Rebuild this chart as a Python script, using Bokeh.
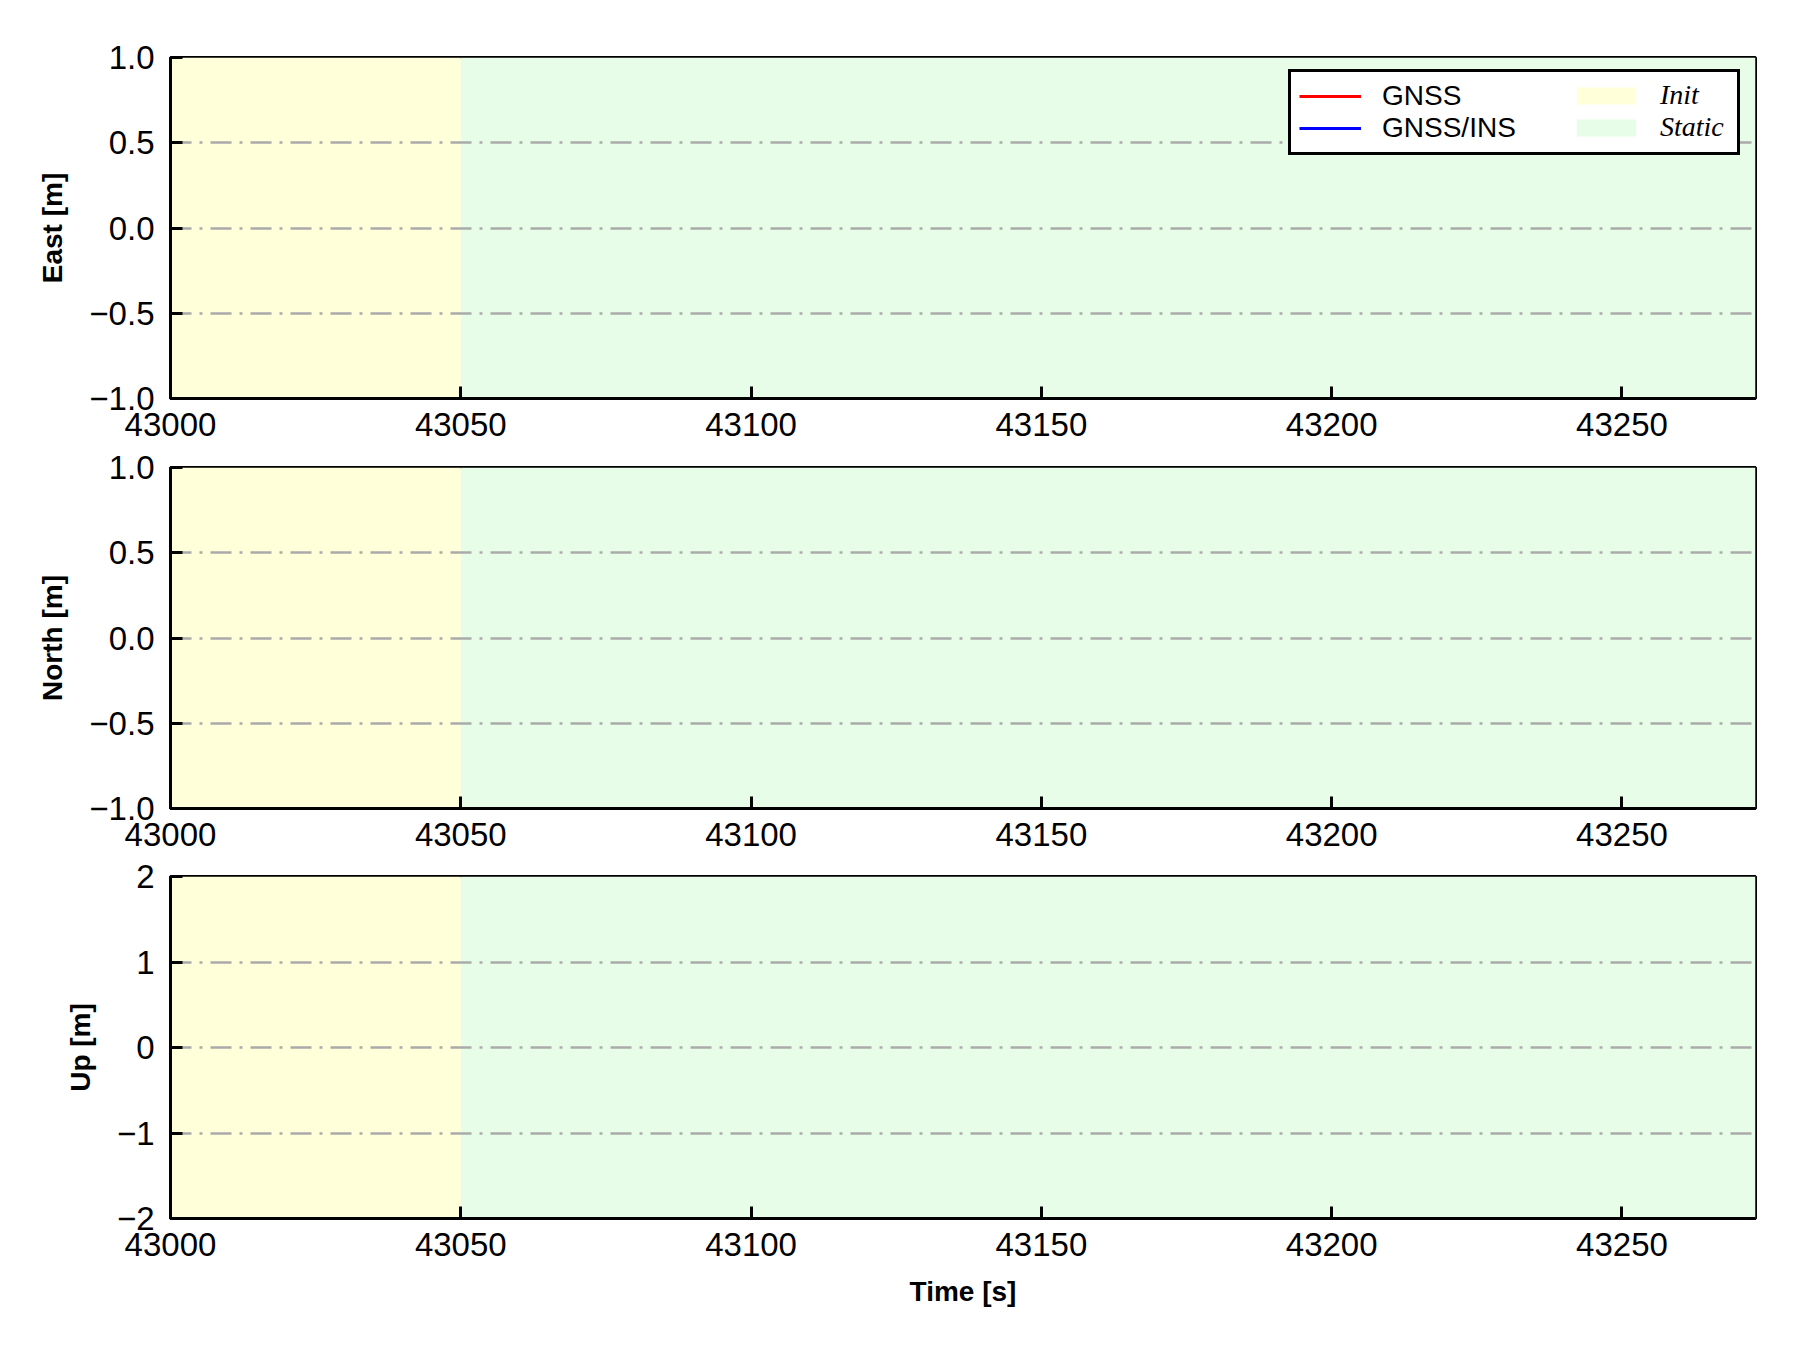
from bokeh.plotting import figure
from bokeh.layouts import column
from bokeh.models import Range1d, FixedTicker, Legend, LegendItem
from bokeh.embed import file_html
from bokeh.resources import INLINE

NaN = float("nan")

# ---- data ----
time_ticks = [43000, 43050, 43100, 43150, 43200, 43250]
time_tick_labels = ["43000", "43050", "43100", "43150", "43200", "43250"]
x_start, x_end = 43000, 43273

east_ticks = [-1.0, -0.5, 0.0, 0.5, 1.0]
east_tick_labels = ["\u22121.0", "\u22120.5", "0.0", "0.5", "1.0"]
north_ticks = [-1.0, -0.5, 0.0, 0.5, 1.0]
north_tick_labels = ["\u22121.0", "\u22120.5", "0.0", "0.5", "1.0"]
up_ticks = [-2, -1, 0, 1, 2]
up_tick_labels = ["\u22122", "\u22121", "0", "1", "2"]

phase_names = ["Init", "Static"]
phase_start = [43000, 43050]
phase_end = [43050, 43273]
phase_colors = ["#ffffd9", "#e8fde8"]

# no visible samples of either solution appear in the chart
gnss_time = [NaN]
gnss_east = [NaN]
gnss_north = [NaN]
gnss_up = [NaN]
ins_time = [NaN]
ins_east = [NaN]
ins_north = [NaN]
ins_up = [NaN]

FONT = "Liberation Sans"


def make_fig(ylabel, yticks, ylabels, height, top, bottom, ys_gnss, ys_ins, xlabel=None):
    ylo, yhi = yticks[0], yticks[-1]
    p = figure(width=1800, height=height,
               x_range=Range1d(x_start, x_end), y_range=Range1d(ylo, yhi),
               output_backend="svg", toolbar_location=None,
               min_border_left=170, min_border_right=45,
               min_border_top=top, min_border_bottom=bottom)
    p.background_fill_color = "white"
    p.border_fill_color = "white"
    p.outline_line_color = "black"
    p.outline_line_width = 3
    p.outline_line_alpha = 1

    bands = []
    for i in range(len(phase_names)):
        r = p.quad(left=[phase_start[i]], right=[phase_end[i]], bottom=[ylo], top=[yhi],
                   fill_color=phase_colors[i], line_color=None, level="image")
        bands.append(r)

    r_g = p.line(gnss_time, ys_gnss, line_color="red", line_width=3)
    r_i = p.line(ins_time, ys_ins, line_color="blue", line_width=3)

    p.xgrid.grid_line_color = None
    p.ygrid.grid_line_color = "#aaaaaa"
    p.ygrid.grid_line_width = 2.5
    p.ygrid.grid_line_dash = "21 8 3 8"

    xa = p.xaxis[0]
    xa.ticker = FixedTicker(ticks=time_ticks)
    xa.major_label_overrides = {t: l for t, l in zip(time_ticks, time_tick_labels)}
    ya = p.yaxis[0]
    ya.ticker = FixedTicker(ticks=yticks)
    ya.major_label_overrides = {t: l for t, l in zip(yticks, ylabels)}
    p.ygrid.ticker = FixedTicker(ticks=yticks)

    for ax in (xa, ya):
        ax.axis_line_color = "black"
        ax.axis_line_width = 3
        ax.major_tick_in = 12
        ax.major_tick_out = 0
        ax.major_tick_line_width = 3
        ax.major_tick_line_color = "black"
        ax.minor_tick_line_color = None
        ax.major_label_text_font = FONT
        ax.major_label_text_font_size = "33px"
        ax.major_label_text_color = "black"
        ax.axis_label_text_font = FONT
        ax.axis_label_text_font_size = "28px"
        ax.axis_label_text_font_style = "bold"
        ax.axis_label_text_color = "black"
    xa.major_label_standoff = 14
    ya.major_label_standoff = 16
    ya.axis_label = ylabel
    ya.axis_label_standoff = 18
    if xlabel:
        xa.axis_label = xlabel
        xa.axis_label_standoff = 17
    return p, bands, r_g, r_i


p1, bands1, g1, i1 = make_fig("East [m]", east_ticks, east_tick_labels, 448, 57, 50, gnss_east, ins_east)
p2, _, _, _ = make_fig("North [m]", north_ticks, north_tick_labels, 410, 19, 50, gnss_north, ins_north)
p3, _, _, _ = make_fig("Up [m]", up_ticks, up_tick_labels, 478, 18, 118, gnss_up, ins_up, xlabel="Time [s]")

leg1 = Legend(items=[LegendItem(label="GNSS", renderers=[g1]),
                     LegendItem(label="GNSS/INS", renderers=[i1])],
              location=(1118, 243), orientation="vertical",
              label_text_font=FONT, label_text_font_size="28px", label_text_color="black",
              glyph_width=62, glyph_height=20, label_standoff=21, label_width=347,
              padding=8, spacing=0, margin=0,
              border_line_color="black", border_line_width=3, border_line_alpha=1,
              background_fill_color="white", background_fill_alpha=1)
leg2 = Legend(items=[LegendItem(label=phase_names[i], renderers=[bands1[i]]) for i in range(len(phase_names))],
              location=(1391, 247), orientation="vertical",
              label_text_font="Liberation Serif", label_text_font_style="italic",
              label_text_font_size="28px", label_text_color="black",
              glyph_width=74, glyph_height=21, label_standoff=17, label_width=80,
              padding=8, spacing=0, margin=0,
              border_line_alpha=0, background_fill_alpha=0)
p1.add_layout(leg1, "center")
p1.add_layout(leg2, "center")

layout = column(p1, p2, p3, spacing=0)
open("out.html", "w").write(file_html(layout, INLINE))
